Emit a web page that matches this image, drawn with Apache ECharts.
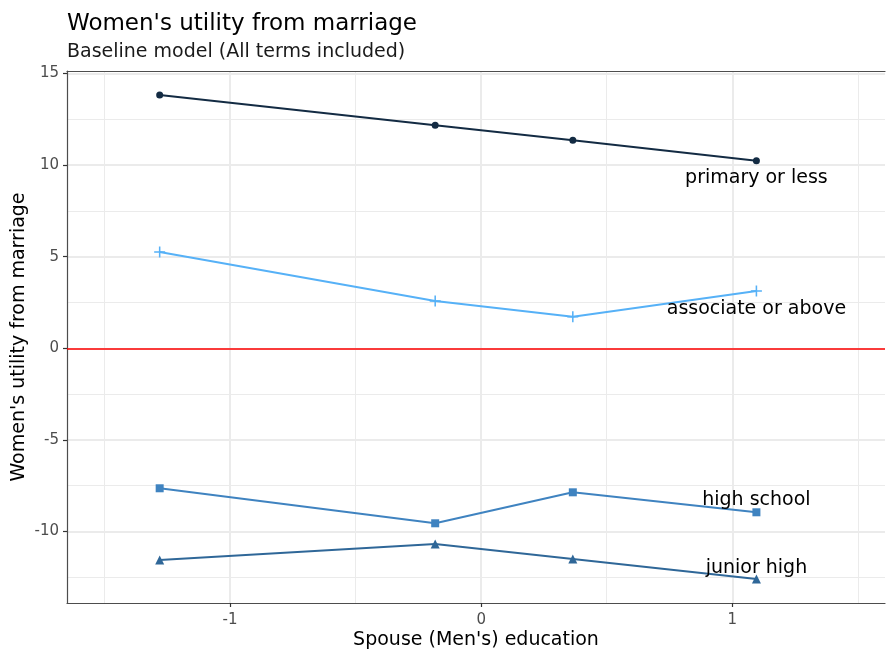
<!DOCTYPE html>
<html>
<head>
<meta charset="utf-8">
<script src="https://cdn.jsdelivr.net/npm/echarts@6/dist/echarts.min.js"></script>
<style>
html, body { margin: 0; padding: 0; background: #fff; }
#chart { width: 886px; height: 654px; }
</style>
</head>
<body>
<div id="chart"></div>
<script>
// 数据
const spouseEdu = [-1.28, -0.183, 0.365, 1.096];
const primaryOrLess = [13.82, 12.17, 11.35, 10.23];
const associateOrAbove = [5.25, 2.58, 1.72, 3.13];
const highSchool = [-7.64, -9.55, -7.86, -8.95];
const juniorHigh = [-11.55, -10.68, -11.50, -12.59];
const xMajor = [-1, 0, 1];
const xMinor = [-1.5, -0.5, 0.5, 1.5];
const yMajor = [-10, -5, 0, 5, 10, 15];
const yMinor = [-12.5, -7.5, -2.5, 2.5, 7.5, 12.5];

const X_MIN = -1.649, X_MAX = 1.608;
const Y_MIN = -13.9, Y_MAX = 15.13;
const FONT = 'DejaVu Sans';

let chart = echarts.init(document.getElementById('chart'));

function pairs(ys) {
    return ys.map((y, i) => [spouseEdu[i], y]);
}

// 末端标签
function endLabel(text, pos, dist) {
    return {
        show: true,
        position: pos,
        distance: dist,
        color: '#000',
        fontFamily: FONT,
        fontSize: 19,
        formatter: p => p.dataIndex === spouseEdu.length - 1 ? text : ''
    };
}

function lineSeries(name, ys, color, symbol, size, label) {
    return {
        name: name,
        type: 'line',
        data: pairs(ys),
        symbol: symbol,
        symbolSize: size,
        showAllSymbol: true,
        lineStyle: { color: color, width: 2 },
        itemStyle: { color: color },
        label: label,
        emphasis: { disabled: true },
        z: 3
    };
}

const plusPath = 'path://M4.3,0h1.4v10h-1.4zM0,4.3h10v1.4h-10z';

let option = {
    backgroundColor: '#fff',
    animation: false,
    title: {
        text: "Women's utility from marriage",
        subtext: 'Baseline model (All terms included)',
        left: 62,
        top: 8,
        itemGap: 7,
        textStyle: { color: '#000', fontFamily: FONT, fontSize: 23, fontWeight: 'normal' },
        subtextStyle: { color: '#1a1a1a', fontFamily: FONT, fontSize: 19 }
    },
    grid: { left: 67, right: 1, top: 71, bottom: 51, containLabel: false, outerBoundsMode: 'none' },
    xAxis: [{
        type: 'value',
        min: X_MIN,
        max: X_MAX,
        name: "Spouse (Men's) education",
        nameLocation: 'middle',
        nameGap: 28,
        nameMoveOverlap: false,
        nameTextStyle: { color: '#000', fontFamily: FONT, fontSize: 19 },
        axisLine: { show: true, onZero: false, lineStyle: { color: '#4d4d4d', width: 1.2 } },
        axisTick: { show: true, length: 4, customValues: xMajor, lineStyle: { color: '#333', width: 1.2 } },
        axisLabel: { customValues: xMajor, margin: 10, color: '#4d4d4d', fontFamily: FONT, fontSize: 15 },
        splitLine: { show: true, lineStyle: { color: '#ebebeb', width: 2 } }
    }, {
        type: 'value',
        position: 'top',
        min: X_MIN,
        max: X_MAX,
        axisLine: { show: true, onZero: false, lineStyle: { color: '#4d4d4d', width: 1.2 } },
        axisTick: { show: false, customValues: xMinor },
        axisLabel: { show: false, customValues: xMinor },
        splitLine: { show: true, lineStyle: { color: '#ebebeb', width: 1 } }
    }],
    yAxis: [{
        type: 'value',
        min: Y_MIN,
        max: Y_MAX,
        name: "Women's utility from marriage",
        nameLocation: 'middle',
        nameGap: 38,
        nameMoveOverlap: false,
        nameTextStyle: { color: '#000', fontFamily: FONT, fontSize: 19 },
        axisLine: { show: true, onZero: false, lineStyle: { color: '#4d4d4d', width: 1.2 } },
        axisTick: { show: true, length: 4, customValues: yMajor, lineStyle: { color: '#333', width: 1.2 } },
        axisLabel: { customValues: yMajor, margin: 8, color: '#4d4d4d', fontFamily: FONT, fontSize: 15 },
        splitLine: { show: true, lineStyle: { color: '#ebebeb', width: 2 } }
    }, {
        type: 'value',
        position: 'right',
        min: Y_MIN,
        max: Y_MAX,
        axisLine: { show: false },
        axisTick: { show: false, customValues: yMinor },
        axisLabel: { show: false, customValues: yMinor },
        splitLine: { show: true, lineStyle: { color: '#ebebeb', width: 1 } }
    }],
    series: [
        lineSeries('primary or less', primaryOrLess, '#132b43', 'circle', 7,
            endLabel('primary or less', 'bottom', 4)),
        lineSeries('associate or above', associateOrAbove, '#56b1f7', plusPath, 11,
            endLabel('associate or above', 'bottom', 3)),
        lineSeries('high school', highSchool, '#3f83c0', 'rect', 8,
            endLabel('high school', 'top', -1)),
        lineSeries('junior high', juniorHigh, '#2f6798', 'triangle', 9,
            endLabel('junior high', 'top', -3)),
        {
            // y = 0 参考线
            name: 'zero',
            type: 'line',
            data: [],
            markLine: {
                silent: true,
                symbol: 'none',
                label: { show: false },
                lineStyle: { color: '#ff0000', width: 1.5, type: 'solid' },
                data: [{ yAxis: 0 }]
            },
            z: 2
        }
    ]
};
chart.setOption(option);
</script>
</body>
</html>
